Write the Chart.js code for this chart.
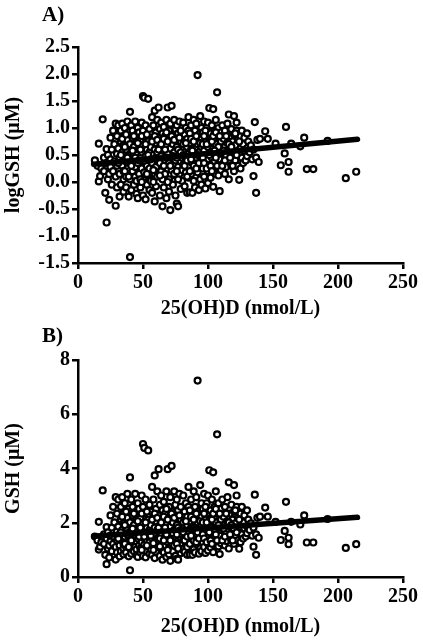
<!DOCTYPE html>
<html>
<head>
<meta charset="utf-8">
<script src="https://cdn.jsdelivr.net/npm/chart.js@4"></script>
<style>
body { margin: 0; background: #fff; }
.wrap { position: relative; width: 423px; height: 642px; }
canvas { position: absolute; left: 0; }
.lbl { position: absolute; font: bold 21px "Liberation Serif", "Times New Roman", serif; line-height: 21px; }
</style>
</head>
<body>
<div class="wrap">
  <canvas id="chartA" width="423" height="321" style="top:0"></canvas>
  <canvas id="chartB" width="423" height="321" style="top:321px"></canvas>
  <div class="lbl" style="left:42px;top:4px">A)</div>
  <div class="lbl" style="left:42px;top:325px">B)</div>
</div>
<script>
// 25(OH)D (nmol/L) for every subject
const vitD = [
  13,15,16,16,17,18,19,20,20,
  21,22,22,22,23,23,24,24,25,25,25,
  26,26,27,27,28,28,29,29,29,30,30,30,30,
  31,31,32,32,32,33,33,33,34,34,34,35,35,35,35,35,
  36,36,37,37,37,38,38,38,39,39,39,40,40,40,40,40,40,
  41,41,41,42,42,42,43,43,43,44,44,44,45,45,45,45,45,
  46,46,46,47,47,47,48,48,48,49,49,49,50,50,50,50,50,50,
  51,51,51,52,52,52,53,53,53,54,54,54,55,55,55,55,55,
  56,56,56,57,57,57,58,58,58,59,59,59,59,60,60,60,60,60,
  61,61,61,62,62,62,63,63,63,64,64,64,65,65,65,65,65,
  66,66,66,67,67,67,68,68,68,69,69,69,70,70,70,70,70,
  71,71,71,72,72,72,73,73,73,74,74,74,75,75,75,75,75,
  76,76,76,77,77,77,78,78,78,79,79,79,80,80,80,80,80,
  81,81,81,82,82,82,83,83,83,84,84,84,85,85,85,85,85,
  86,86,86,87,87,87,88,88,88,89,89,89,90,90,90,90,90,
  91,91,92,92,92,93,93,93,94,94,94,95,95,95,95,95,
  96,96,97,97,97,98,98,98,99,99,99,100,100,100,100,100,
  101,101,101,102,102,102,103,103,104,104,104,104,105,105,105,
  106,106,106,107,107,107,108,108,108,109,109,109,110,110,110,
  111,111,112,112,113,113,113,114,114,115,115,115,
  116,116,116,117,117,118,118,119,119,120,120,120,120,
  121,121,122,122,123,123,124,124,125,125,125,
  126,126,127,127,128,128,129,130,130,130,
  131,132,133,134,135,135,136,137,137,138,139,140,
  144,146,152,156,159,160,162,162,164,171,174,176,181,192,206,214,
  // the dense core
  31,33,34,36,36,38,39,37,
  41,42,43,44,46,47,48,48,49,49,
  51,52,53,53,54,56,57,58,59,58,
  61,62,63,63,64,66,66,67,68,69,69,68,
  71,72,73,74,74,76,76,77,78,79,79,77,
  81,82,83,84,84,86,86,87,88,89,89,87,
  91,91,92,93,94,96,96,97,98,99,99,97,
  101,102,103,103,104,106,106,107,108,109,105,
  111,112,113,114,116,117,118,119,121,122,124
];

// logGSH (natural log of GSH, uM), same order as vitD
const logGSH = [
  0.40,0.30,0.71,0.01,0.11,0.25,1.16,0.45,0.20,
  -0.20,-0.75,0.61,0.35,0.05,0.50,-0.33,0.15,0.82,0.28,0.42,
  0.60,-0.05,0.20,0.95,0.38,0.70,-0.44,0.10,1.08,0.52,0.30,0.85,-0.10,
  1.05,0.62,-0.27,0.45,0.15,0.75,0.95,-0.05,0.30,1.08,0.55,0.05,0.20,0.85,0.68,-0.18,
  0.40,1.00,0.10,0.60,-0.10,0.78,1.12,0.25,0.48,0.92,-0.27,1.30,-1.39,0.05,0.35,0.70,0.15,
  0.55,1.05,-0.15,0.82,0.20,0.95,0.40,-0.05,0.65,1.12,0.28,0.10,0.50,0.88,-0.22,0.75,0.02,
  -0.30,1.00,0.35,0.62,0.15,0.92,0.45,-0.10,0.78,1.10,0.25,0.55,1.59,0.05,0.68,0.38,-0.25,0.95,
  1.56,0.18,0.85,-0.32,0.48,1.05,0.60,0.30,-0.05,1.54,0.75,0.12,0.98,0.42,0.55,-0.15,0.25,
  0.88,0.65,0.02,1.20,0.35,-0.20,0.50,0.80,1.05,1.32,-0.36,0.15,0.60,0.92,0.28,-0.08,0.72,0.45,
  1.15,0.10,0.55,1.38,0.82,0.38,-0.25,0.65,0.98,0.20,0.48,1.10,-0.45,0.75,0.30,0.05,0.90,
  0.58,1.02,-0.10,0.40,0.15,0.85,1.15,0.68,-0.30,1.38,0.25,0.52,0.95,0.35,0.05,0.78,-0.18,
  -0.52,0.62,1.08,1.41,0.22,0.45,0.88,-0.05,0.70,0.32,1.15,0.55,0.12,0.98,-0.25,0.40,0.80,
  -0.40,0.65,1.05,-0.45,0.28,0.90,0.50,1.12,0.15,-0.13,0.75,0.38,0.60,0.95,0.02,0.45,0.22,
  1.10,0.32,0.70,-0.08,0.55,0.88,0.18,1.00,0.42,0.65,-0.20,0.80,1.20,0.28,0.52,0.08,0.95,
  -0.19,0.72,0.40,1.05,0.15,0.60,-0.20,0.85,0.35,1.15,0.50,0.02,0.78,0.25,0.95,-0.10,0.62,
  0.45,1.08,1.98,0.18,0.70,-0.15,0.88,0.55,1.22,0.32,0.05,0.65,1.00,0.42,-0.05,0.80,
  0.25,0.92,0.58,1.12,0.10,0.75,0.38,-0.12,0.50,1.00,0.85,0.20,0.65,1.10,0.42,-0.02,
  1.37,0.72,0.30,0.55,0.90,0.08,0.45,1.05,1.35,-0.09,0.62,0.25,0.80,0.38,0.95,
  0.15,0.70,1.15,1.66,0.50,0.85,0.12,0.32,1.00,-0.17,0.60,0.42,0.75,0.92,0.22,
  0.55,1.05,0.35,0.80,0.15,0.65,0.95,0.48,0.28,0.72,1.08,0.58,
  1.25,0.40,0.05,0.85,0.62,0.30,0.98,0.50,0.75,1.22,0.20,0.88,0.58,
  0.68,0.40,1.10,0.95,0.30,0.78,0.04,0.55,0.85,0.25,0.62,
  0.45,0.95,0.70,0.35,0.82,0.58,0.40,0.90,0.62,0.48,
  0.75,0.55,0.68,0.42,0.11,0.60,1.11,-0.20,0.45,0.78,0.37,0.80,
  0.94,0.80,0.71,0.31,0.53,1.02,0.37,0.19,0.71,0.66,0.82,0.24,0.24,0.76,0.07,0.19,
  // the dense core
  0.35,0.50,0.80,0.20,0.65,0.45,0.10,0.88,
  0.30,0.58,0.85,0.45,0.72,0.40,0.05,0.60,0.85,0.00,
  0.40,0.70,0.88,0.15,0.50,0.42,0.75,0.22,0.85,0.00,
  0.78,0.60,0.35,0.12,0.70,0.80,0.30,0.60,0.45,0.75,0.00,0.92,
  0.30,0.85,0.48,0.15,0.78,0.45,0.20,0.60,0.82,0.55,0.95,0.05,
  0.50,0.30,0.72,0.40,0.10,0.90,0.20,0.80,0.58,0.30,0.75,0.42,
  0.25,0.85,0.50,0.35,0.72,0.45,0.70,0.35,0.95,0.25,0.70,0.85,
  0.50,0.30,0.75,0.20,0.85,0.45,0.92,0.30,0.65,0.85,0.58,
  0.30,0.58,0.40,0.85,0.70,0.45,0.65,0.30,0.90,0.50,0.75
];

// panel B plots the same measurements untransformed (GSH = e^logGSH)
const gsh = logGSH.map(v => Math.exp(v));

// linear fit lines (end points)
const fitX = [12, 215];
const fitA = [0.33, 0.79];
const fitB = [1.50, 2.20];

const FONT = '"Liberation Serif", "Times New Roman", serif';

function makeChart(id, yVals, fitY, yMin, yMax, yStep, yTitle, padTop, xHeight, titleBottom, fmt) {
    const pts = vitD.map((x, i) => ({ x: x, y: yVals[i] }));
    const axisGrid = { display: true, drawOnChartArea: false, tickLength: 6, color: '#000', lineWidth: 2.5 };
    const axisBorder = { display: true, color: '#000', width: 2.5 };
    return new Chart(document.getElementById(id), {
        type: 'scatter',
        data: {
            datasets: [{
                data: [{ x: fitX[0], y: fitY[0] }, { x: fitX[1], y: fitY[1] }],
                showLine: true,
                borderColor: '#000',
                borderWidth: 5.5,
                borderCapStyle: 'round',
                pointRadius: 0,
                order: 0
            }, {
                data: pts,
                pointRadius: 3,
                pointBorderWidth: 2.2,
                borderColor: '#000',
                backgroundColor: '#fff',
                order: 1
            }]
        },
        options: {
            responsive: false,
            animation: false,
            events: [],
            layout: { padding: { top: padTop, right: 20, bottom: 0, left: 0 } },
            plugins: { legend: { display: false }, tooltip: { enabled: false } },
            scales: {
                x: {
                    type: 'linear', min: 0, max: 250,
                    grid: axisGrid, border: axisBorder,
                    ticks: { stepSize: 50, color: '#000', padding: 2, font: { family: FONT, size: 20, weight: 'bold' } },
                    title: { display: true, text: '25(OH)D (nmol/L)', color: '#000', padding: { top: 0, bottom: titleBottom },
                             font: { family: FONT, size: 20, weight: 'bold' } },
                    afterFit: s => { s.height = xHeight; }
                },
                y: {
                    min: yMin, max: yMax,
                    grid: axisGrid, border: axisBorder,
                    ticks: { stepSize: yStep, color: '#000', padding: 2, callback: fmt,
                             font: { family: FONT, size: 20, weight: 'bold' } },
                    title: { display: true, text: yTitle, color: '#000', padding: { top: 2, bottom: 2 },
                             font: { family: FONT, size: 20, weight: 'bold' } },
                    afterFit: s => { s.width = 78; }
                }
            }
        }
    });
}

makeChart('chartA', logGSH, fitA, -1.5, 2.5, 0.5, 'logGSH (\u03bcM)', 47, 58, 0, v => v.toFixed(1));
makeChart('chartB', gsh, fitB, 0, 8, 2, 'GSH (\u03bcM)', 39, 65, 3, v => v);
</script>
</body>
</html>
